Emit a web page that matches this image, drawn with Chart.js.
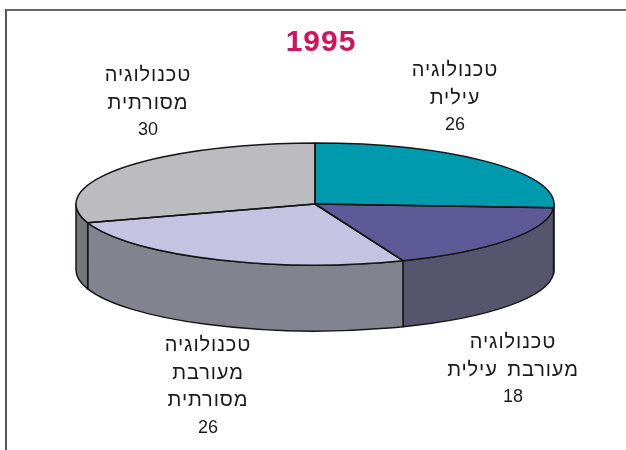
<!DOCTYPE html>
<html><head><meta charset="utf-8">
<script src="https://cdn.jsdelivr.net/npm/chart.js@4/dist/chart.umd.min.js"></script>
<style>
html,body{margin:0;padding:0;background:#fff;}
#wrap{position:relative;width:626px;height:450px;overflow:hidden;font-family:"Liberation Sans",Arial,sans-serif;}
#frame{position:absolute;left:5px;top:9px;width:660px;height:480px;border-top:2px solid #666;border-left:2px solid #555;}
canvas{position:absolute;left:0;top:0;}
.lbl{position:absolute;direction:rtl;text-align:center;font-size:20px;line-height:27.5px;color:#1a1a1a;width:240px;margin-left:-120px;white-space:nowrap;}
.lbl .h{letter-spacing:0.9px;word-spacing:3px;}
.lbl .n{font-size:18px;}
#title{position:absolute;left:0;width:642px;text-align:center;top:24px;font-weight:bold;font-size:30px;color:#d2125d;letter-spacing:1px;}
</style></head><body>
<div id="wrap"><div id="frame"></div><canvas id="c" width="626" height="450"></canvas><div id="title"></div></div>
<script>
// ---- data ----
const chartTitle = "1995";
const categories = [
  ["טכנולוגיה", "עילית"],
  ["טכנולוגיה", "מעורבת עילית"],
  ["טכנולוגיה", "מעורבת", "מסורתית"],
  ["טכנולוגיה", "מסורתית"]
];
const values = [26, 18, 26, 30];

// ---- styles / layout ----
const topColors  = ["#009aae", "#5e5a97", "#c5c3e1", "#bcbcc0"];
const sideColors = ["#006f7d", "#57546e", "#83828f", "#76777b"];
const labelPos = [[455, 56], [513, 328], [208, 331], [148, 61]];
const RX = 239, RY = 61, DEPTH = 66, SX = 315, SY = 204;

document.getElementById('title').textContent = chartTitle;
const wrap = document.getElementById('wrap');
categories.forEach((lines, i) => {
  const d = document.createElement('div');
  d.className = 'lbl';
  d.style.left = labelPos[i][0] + 'px';
  d.style.top = labelPos[i][1] + 'px';
  d.innerHTML = lines.map(s => '<div class="h">' + s + '</div>').join('') + '<div class="n">' + values[i] + '</div>';
  wrap.appendChild(d);
});

function wall(ctx, s, e, color) {
  ctx.beginPath();
  ctx.moveTo(SX + RX * Math.cos(s), SY + RY * Math.sin(s));
  ctx.ellipse(SX, SY, RX, RY, 0, s, e, false);
  ctx.lineTo(SX + RX * Math.cos(e), SY + RY * Math.sin(e) + DEPTH);
  ctx.ellipse(SX, SY + DEPTH, RX, RY, 0, e, s, true);
  ctx.closePath();
  ctx.fillStyle = color;
  ctx.fill();
  ctx.stroke();
}

const pie3d = {
  id: 'pie3d',
  beforeDatasetsDraw(chart) {
    const ctx = chart.ctx;
    const arcs = chart.getDatasetMeta(0).data;
    const cx = arcs[0].x, cy = arcs[0].y, R = arcs[0].outerRadius;
    ctx.save();
    ctx.lineWidth = 1.5; ctx.strokeStyle = '#161616'; ctx.lineJoin = 'round';
    arcs.forEach((arc, i) => {
      for (const off of [0, 2 * Math.PI, -2 * Math.PI]) {
        const s = Math.max(arc.startAngle + off, 0), e = Math.min(arc.endAngle + off, Math.PI);
        if (e > s) wall(ctx, s, e, sideColors[i]);
      }
    });
    ctx.restore();
    ctx.save();
    ctx.translate(SX, SY); ctx.scale(RX / R, RY / R); ctx.translate(-cx, -cy);
  },
  afterDatasetsDraw(chart) {
    const ctx = chart.ctx;
    ctx.restore();
    const arcs = chart.getDatasetMeta(0).data;
    ctx.save();
    ctx.lineWidth = 1.5; ctx.strokeStyle = '#161616'; ctx.lineJoin = 'round';
    arcs.forEach(arc => {
      const s = arc.startAngle, e = arc.endAngle;
      ctx.beginPath();
      ctx.moveTo(SX, SY);
      ctx.lineTo(SX + RX * Math.cos(s), SY + RY * Math.sin(s));
      ctx.ellipse(SX, SY, RX, RY, 0, s, e, false);
      ctx.closePath();
      ctx.stroke();
    });
    ctx.restore();
  }
};

new Chart(document.getElementById('c'), {
  type: 'pie',
  data: {
    labels: categories.map(c => c.join(' ')),
    datasets: [{ data: values, backgroundColor: topColors, borderWidth: 0 }]
  },
  options: {
    responsive: false,
    animation: false,
    events: [],
    layout: { padding: 0 },
    plugins: { legend: { display: false }, tooltip: { enabled: false }, title: { display: false } }
  },
  plugins: [pie3d]
});
</script>
</body></html>
